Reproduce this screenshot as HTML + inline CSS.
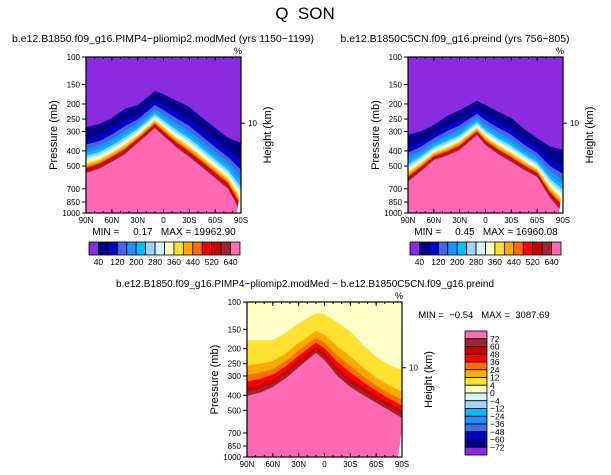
<!DOCTYPE html>
<html><head><meta charset="utf-8"><style>
body{margin:0;background:#fff;}
svg{display:block;font-family:"Liberation Sans",sans-serif;}
text{white-space:pre;}
</style></head><body>
<svg id="c" width="611" height="475" viewBox="0 0 611 475"></svg>
<script>
// ---- data ----
const lats=[90,75,60,45,30,10,0,-15,-30,-45,-60,-75,-90];
const xLabels=['90N','60N','30N','0','30S','60S','90S'];
const pLabels=[100,150,200,250,300,400,500,700,850,1000];
// panel 1 (PIMP4 pliomip2)
const p1PinkTop=[554,520,469,420,356,285,321,380,437,510,597,700,1000];
const p1PurpleBot=[281,270,246,215,203,165,173,190,209,245,285,330,356];
// panel 2 (preind)
const p2PinkTop=[631,540,457,430,394,316,367,420,471,530,588,800,1000];
const p2PurpleBot=[316,300,273,240,219,191,203,225,246,290,331,375,394];
// panel 3 (difference)
const p3PinkTop=[404,385,353,310,263,213,237,300,353,400,447,500,560];
const p3YellowBot=[176,176,176,158,137,118,120,135,155,190,226,255,275];
const colors1=['#8a2be2','#00008b','#0000cd','#4169e1','#1e90ff','#00bfff','#a0d2ff','#d2f5ff','#ffffc8','#ffe132','#ffaa00','#ff6e00','#ff0000','#c80000','#a0232d','#ff69b4'];
const fracs1=[0,.25,.38,.48,.56,.63,.69,.74,.78,.82,.86,.89,.92,.95,1];
const cbLabels1=['40','120','200','280','360','440','520','640'];
const colors3=['#ffffc8','#ffe132','#ffaa00','#ff6e00','#ff0000','#c80000','#a0232d','#ff69b4'];
const fracs3=[0,.45,.62,.74,.84,.92,1];
const cbColors3=['#ff69b4','#a0232d','#c80000','#ff0000','#ff6e00','#ffaa00','#ffe132','#ffffc8','#d2f5ff','#a0d2ff','#00bfff','#1e90ff','#4169e1','#0000cd','#00008b','#8a2be2'];
const cbLabels3=['72','60','48','36','24','12','4','0','\u22124','\u221212','\u221224','\u221236','\u221248','\u221260','\u221272'];

const svg=document.getElementById('c');
const NS='http://www.w3.org/2000/svg';
function mk(tag,attrs,parent,name,text){const e=document.createElementNS(NS,tag);for(const k in attrs)e.setAttribute(k,attrs[k]);


if(text!==undefined)e.textContent=text;(parent||svg).appendChild(e);return e;}
function txt(x,y,s,size,name,anchor,extra){return mk('text',Object.assign({x:x,y:y,'font-size':size,'text-anchor':anchor||'middle',fill:'#000'},extra||{}),svg,name,s);}

function panel(X0,Y0,W,H,bounds,colors,id){
  const xs=lat=>X0+(90-lat)/180*W;
  const ys=p=>Y0+Math.log10(p/100)*H;
  const g=mk('g',{},svg,id+'-plot');
  mk('rect',{x:X0,y:Y0,width:W,height:H,fill:colors[0]},g,id+'-top-fill');
  for(let b=0;b<bounds.length;b++){
    let d='M'+X0+','+(Y0+H);
    lats.forEach((la,i)=>{d+=' L'+xs(la).toFixed(1)+','+ys(Math.min(bounds[b][i],1000)).toFixed(1);});
    d+=' L'+(X0+W)+','+(Y0+H)+' Z';
    mk('path',{d:d,fill:colors[b+1],'stroke-linejoin':'round'},g,id+'-band-'+(b+1));
  }
  mk('path',{d:`M${X0+W-4},${Y0+H} L${X0+W},${Y0+H-28} L${X0+W},${Y0+H} Z`,fill:'#fff'},g,id+'-missing-data');
  mk('rect',{x:X0,y:Y0,width:W,height:H,fill:'none',stroke:'#000','stroke-width':1.2},g,id+'-frame');
  pLabels.forEach(p=>{const y=ys(p);mk('line',{x1:X0-4,x2:X0,y1:y,y2:y,stroke:'#000'},g,id+'-y-tick');
    txt(X0-6,y+3,String(p),8,id+'-y-tick-label','end');});
  xLabels.forEach((l,i)=>{const x=X0+i*W/6;mk('line',{x1:x,x2:x,y1:Y0+H,y2:Y0+H-4,stroke:'#000'},g,id+'-x-tick');
    mk('line',{x1:x,x2:x,y1:Y0,y2:Y0+4,stroke:'#000'},g,id+'-x-top-tick');
    txt(x,Y0+H+10,l,8,id+'-x-tick-label');});
  for(let i=0;i<=18;i++){const x=X0+i*W/18;mk('line',{x1:x,x2:x,y1:Y0+H,y2:Y0+H-2,stroke:'#000'},g,id+'-x-minor-tick');mk('line',{x1:x,x2:x,y1:Y0,y2:Y0+2,stroke:'#000'},g,id+'-x-top-minor-tick');}
  const y10=Y0+0.424*H;
  mk('line',{x1:X0+W,x2:X0+W+4,y1:y10,y2:y10,stroke:'#000'},g,id+'-height-tick');
  txt(X0+W+7,y10+3,'10',8,id+'-height-tick-label','start');
  txt(X0+W-3,Y0-3,'%',9,id+'-units');
  txt(0,0,'Pressure (mb)',11,id+'-y-axis-title','middle',{transform:`translate(${X0-29},${Y0+H/2}) rotate(-90)`});
  txt(0,0,'Height (km)',11,id+'-height-axis-title','middle',{transform:`translate(${X0+W+30},${Y0+H/2}) rotate(-90)`});
}
function mixBounds(top,bot,fr){return fr.map(f=>top.map((t,i)=>Math.pow(10,Math.log10(t)+(Math.log10(bot[i])-Math.log10(t))*f)));}

txt(305,19,'Q  SON',17,'main-title');
txt(163,42,'b.e12.B1850.f09_g16.PIMP4\u2212pliomip2.modMed (yrs 1150\u22121199)',10.5,'panel1-title');
txt(455,42,'b.e12.B1850C5CN.f09_g16.preind (yrs 756\u2212805)',10.5,'panel2-title');
txt(305,287,'b.e12.B1850.f09_g16.PIMP4\u2212pliomip2.modMed \u2212 b.e12.B1850C5CN.f09_g16.preind',10,'panel3-title');

panel(86,57,155,156,mixBounds(p1PurpleBot,p1PinkTop,fracs1),colors1,'panel1');
panel(408,57,155,156,mixBounds(p2PurpleBot,p2PinkTop,fracs1),colors1,'panel2');
panel(247,302,155,155,mixBounds(p3YellowBot,p3PinkTop,fracs3),colors3,'panel3');

txt(164,235,'MIN =     0.17   MAX = 19962.90',10,'panel1-min-max');
txt(486,235,'MIN =     0.45   MAX = 16960.08',10,'panel2-min-max');
txt(484,318,'MIN =  \u22120.54   MAX =  3087.69',9.5,'panel3-min-max');

function hbar(X,Y,W,H,id){const bw=W/colors1.length;
  colors1.forEach((c,i)=>mk('rect',{x:X+i*bw,y:Y,width:bw,height:H,fill:c,stroke:'#000','stroke-width':0.8},svg,id+'-box'));
  cbLabels1.forEach((l,i)=>txt(X+(1+2*i)*bw,Y+H+10,l,8.5,id+'-label'));}
hbar(89,242,151,13,'colorbar1');
hbar(410,242,151,13,'colorbar2');
(function(){const X=465,Y=331,W=22,H=124,bh=H/cbColors3.length;
  cbColors3.forEach((c,i)=>mk('rect',{x:X,y:Y+i*bh,width:W,height:bh,fill:c,stroke:'#000','stroke-width':0.8},svg,'colorbar3-box'));
  cbLabels3.forEach((l,i)=>txt(X+W+3,Y+(i+1)*bh+3,l,8.5,'colorbar3-label','start'));})();
</script>
</body></html>
